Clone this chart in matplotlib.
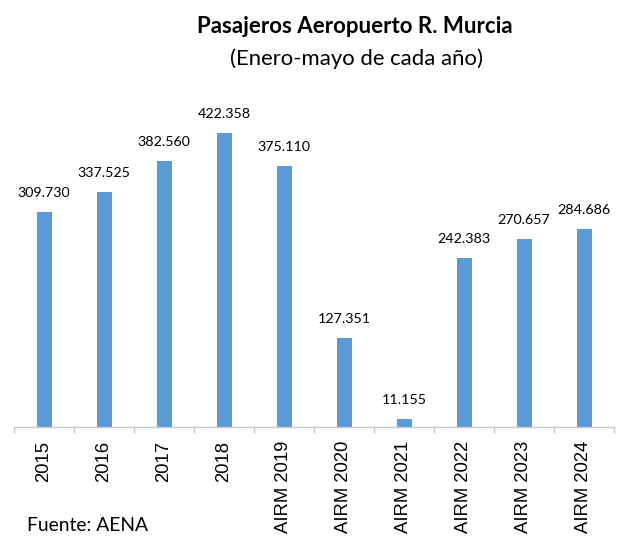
import matplotlib
matplotlib.use("Agg")
import matplotlib.pyplot as plt
from matplotlib import font_manager
from matplotlib.font_manager import FontProperties

categories = ["2015", "2016", "2017", "2018", "AIRM 2019", "AIRM 2020",
              "AIRM 2021", "AIRM 2022", "AIRM 2023", "AIRM 2024"]
values = [309730, 337525, 382560, 422358, 375110, 127351, 11155, 242383, 270657, 284686]
labels = ["309.730", "337.525", "382.560", "422.358", "375.110", "127.351",
          "11.155", "242.383", "270.657", "284.686"]

plt.rcParams['font.family'] = ['Lato', 'DejaVu Sans']

# locate an Arial-metric font file
tick_path = None
for f in font_manager.fontManager.ttflist:
    if f.name in ("Liberation Sans", "Arimo") and f.style == "normal" and f.weight in (400, "normal", "regular"):
        tick_path = f.fname
        break
if tick_path:
    tick_font = FontProperties(fname=tick_path, size=13.3)
else:
    tick_font = FontProperties(family=["Liberation Sans", "DejaVu Sans"], size=13.3)

W, H = 622, 538
fig = plt.figure(figsize=(W / 100, H / 100), dpi=100)
left, right, top, bottom = 14, 614, 114, 427
ax = fig.add_axes([left / W, 1 - bottom / H, (right - left) / W, (bottom - top) / H])

x = list(range(len(categories)))
bar_color = "#5B9BD5"
ax.bar(x, values, width=0.25, color=bar_color)
ax.set_xlim(-0.5, len(categories) - 0.5)
ax.set_ylim(0, 450000)

for xi, v, lab in zip(x, values, labels):
    ax.annotate(lab, (xi, v), xytext=(0, 15), textcoords="offset pixels",
                ha="center", va="baseline", fontsize=10.3, color="#000000")

for s in ["top", "right", "left"]:
    ax.spines[s].set_visible(False)
ax.spines["bottom"].set_color("#c8c8c8")
ax.spines["bottom"].set_linewidth(1)
ax.set_yticks([])

ax.set_xticks(x)
ax.set_xticklabels(categories, rotation=90, va="top", ha="center", fontproperties=tick_font)
ax.tick_params(axis="x", which="major", length=0, pad=10)
ax.set_xticks([i - 0.5 for i in range(len(categories) + 1)], minor=True)
ax.tick_params(axis="x", which="minor", length=4.5, color="#c8c8c8", width=1)

fig.text(355 / W, 1 - 33 / H, "Pasajeros Aeropuerto R. Murcia", ha="center", va="baseline",
         fontsize=16, fontweight="bold")
fig.text(356 / W, 1 - 65 / H, "(Enero-mayo de cada año)", ha="center", va="baseline",
         fontsize=15.9)
fig.text(27 / W, 1 - 531 / H, "Fuente: AENA", ha="left", va="baseline", fontsize=13.9)

fig.savefig("out.png", dpi=100)
